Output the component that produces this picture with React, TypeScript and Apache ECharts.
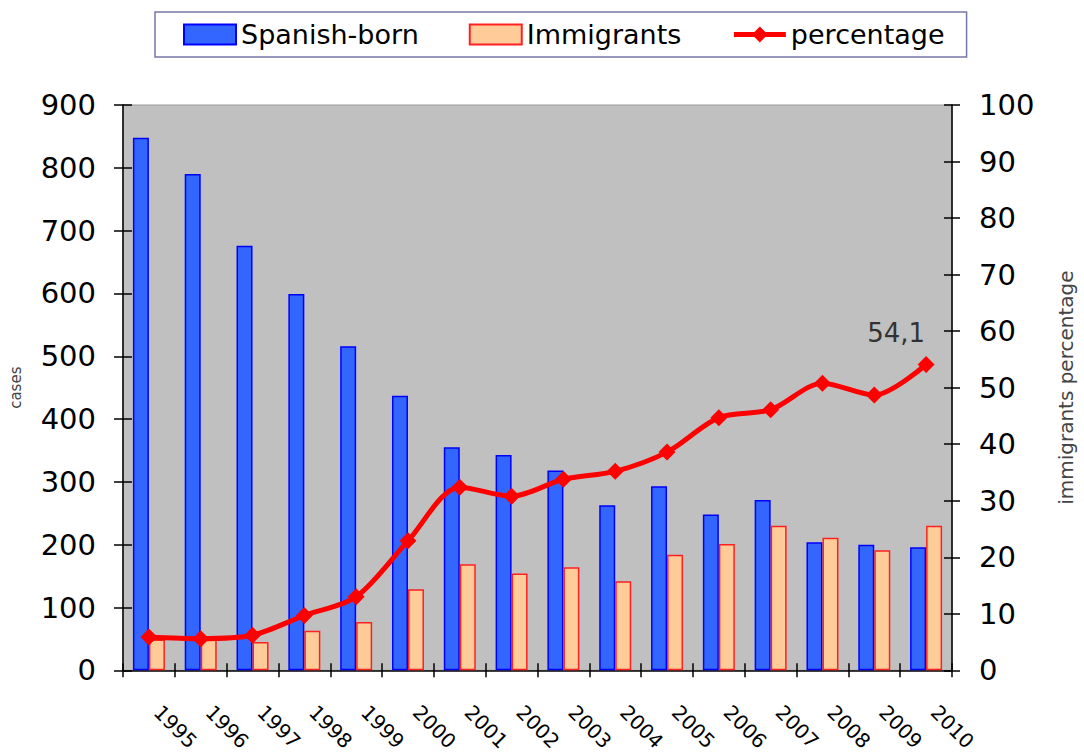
import React, { useEffect, useRef } from "react";
import * as echarts from "echarts";

const years = ["1995","1996","1997","1998","1999","2000","2001","2002","2003","2004","2005","2006","2007","2008","2009","2010"];
const spanishBorn = [848, 790, 676, 599, 516, 437, 355, 343, 318, 263, 293, 248, 271, 204, 200, 196];
const immigrants = [49, 49, 45, 63, 77, 129, 169, 154, 164, 142, 184, 201, 230, 211, 191, 230];
const percentage = [5.9, 5.6, 6.2, 9.7, 13.0, 22.9, 32.4, 30.8, 33.8, 35.2, 38.6, 44.7, 46.1, 50.8, 48.7, 54.1];
const pctLabel = "54,1";

export default function App() {
  const ref = useRef<HTMLDivElement>(null);
  useEffect(() => {
    if (!ref.current) return;
    document.body.style.margin = "0";
    document.documentElement.style.overflow = "hidden";
    const chart = echarts.init(ref.current, undefined, { renderer: "svg" });
    const last = percentage.length - 1;
    const font = "DejaVu Sans";
    const tickStyle = { color: "#000", width: 1.5 };
    chart.setOption({
      animation: false,
      backgroundColor: "#ffffff",
      textStyle: { fontFamily: font },
      legend: {
        left: 155,
        top: 12,
        padding: [9, 22, 9, 28],
        borderColor: "#7777aa",
        borderWidth: 1.5,
        itemWidth: 52,
        itemHeight: 20,
        itemGap: 50,
        textStyle: { fontFamily: font, fontSize: 27, color: "#000" },
        data: [
          { name: "Spanish-born", icon: "rect" },
          { name: "Immigrants", icon: "rect" },
          { name: "percentage", lineStyle: { width: 5, color: "#FF0000" } },
        ],
      },
      grid: {
        left: 123,
        right: 126,
        top: 105,
        bottom: 75,
        show: true,
        backgroundColor: "#C0C0C0",
        borderColor: "#999999",
        borderWidth: 1,
      },
      xAxis: [
        {
          type: "category",
          data: years,
          position: "bottom",
          boundaryGap: true,
          axisLine: { lineStyle: tickStyle },
          axisTick: { show: true, interval: 0, length: 7, lineStyle: tickStyle },
          axisLabel: {
            interval: 0,
            rotate: -45,
            margin: 30,
            padding: [0, 0, 0, 12],
            fontFamily: font,
            fontSize: 20,
            color: "#000",
          },
        },
        {
          type: "category",
          data: years,
          position: "bottom",
          boundaryGap: true,
          axisLine: { show: false },
          axisTick: { show: true, inside: true, interval: 0, length: 7, lineStyle: tickStyle },
          axisLabel: { show: false },
        },
      ],
      yAxis: [
        {
          type: "value",
          min: 0,
          max: 900,
          interval: 100,
          position: "left",
          name: "cases",
          nameLocation: "middle",
          nameGap: 100,
          nameRotate: 90,
          nameTextStyle: { fontFamily: font, fontSize: 15, color: "#444" },
          axisLine: { show: true, lineStyle: tickStyle },
          axisTick: { show: true, length: 9, lineStyle: tickStyle },
          axisLabel: { margin: 27, fontFamily: font, fontSize: 29, color: "#000" },
          splitLine: { show: false },
        },
        {
          type: "value",
          min: 0,
          max: 100,
          interval: 10,
          position: "right",
          name: "immigrants percentage",
          nameLocation: "middle",
          nameGap: 104,
          nameRotate: 90,
          nameTextStyle: { fontFamily: font, fontSize: 20, color: "#444" },
          axisLine: { show: true, lineStyle: tickStyle },
          axisTick: { show: true, length: 8, lineStyle: tickStyle },
          axisLabel: { margin: 27, fontFamily: font, fontSize: 29, color: "#000" },
          splitLine: { show: false },
        },
        {
          type: "value",
          min: 0,
          max: 900,
          interval: 100,
          position: "left",
          axisLine: { show: false },
          axisTick: { show: true, inside: true, length: 9, lineStyle: tickStyle },
          axisLabel: { show: false },
          splitLine: { show: false },
        },
        {
          type: "value",
          min: 0,
          max: 100,
          interval: 10,
          position: "right",
          axisLine: { show: false },
          axisTick: { show: true, inside: true, length: 8, lineStyle: tickStyle },
          axisLabel: { show: false },
          splitLine: { show: false },
        },
      ],
      series: [
        {
          name: "Spanish-born",
          type: "bar",
          xAxisIndex: 0,
          yAxisIndex: 0,
          data: spanishBorn,
          barWidth: 16,
          barGap: "0%",
          itemStyle: { color: "#3366FF", borderColor: "#0000FF", borderWidth: 1.5 },
        },
        {
          name: "Immigrants",
          type: "bar",
          xAxisIndex: 0,
          yAxisIndex: 0,
          data: immigrants,
          barWidth: 16,
          barGap: "0%",
          itemStyle: { color: "#FFCC99", borderColor: "#FF2020", borderWidth: 1.5 },
        },
        {
          name: "percentage",
          type: "line",
          xAxisIndex: 0,
          yAxisIndex: 1,
          smooth: 0.3,
          symbol: "diamond",
          symbolSize: 17,
          lineStyle: { color: "#FF0000", width: 5 },
          itemStyle: { color: "#FF0000" },
          z: 5,
          data: percentage.map((v, i) =>
            i === last
              ? {
                  value: v,
                  label: {
                    show: true,
                    position: "top",
                    offset: [-30, -5],
                    formatter: () => pctLabel,
                    fontFamily: font,
                    fontSize: 26,
                    color: "#333",
                  },
                }
              : v
          ),
        },
      ],
    });
    return () => chart.dispose();
  }, []);
  return (
    <div
      ref={ref}
      style={{ width: 1084, height: 754, position: "absolute", left: 0, top: 0, overflow: "hidden" }}
    />
  );
}
